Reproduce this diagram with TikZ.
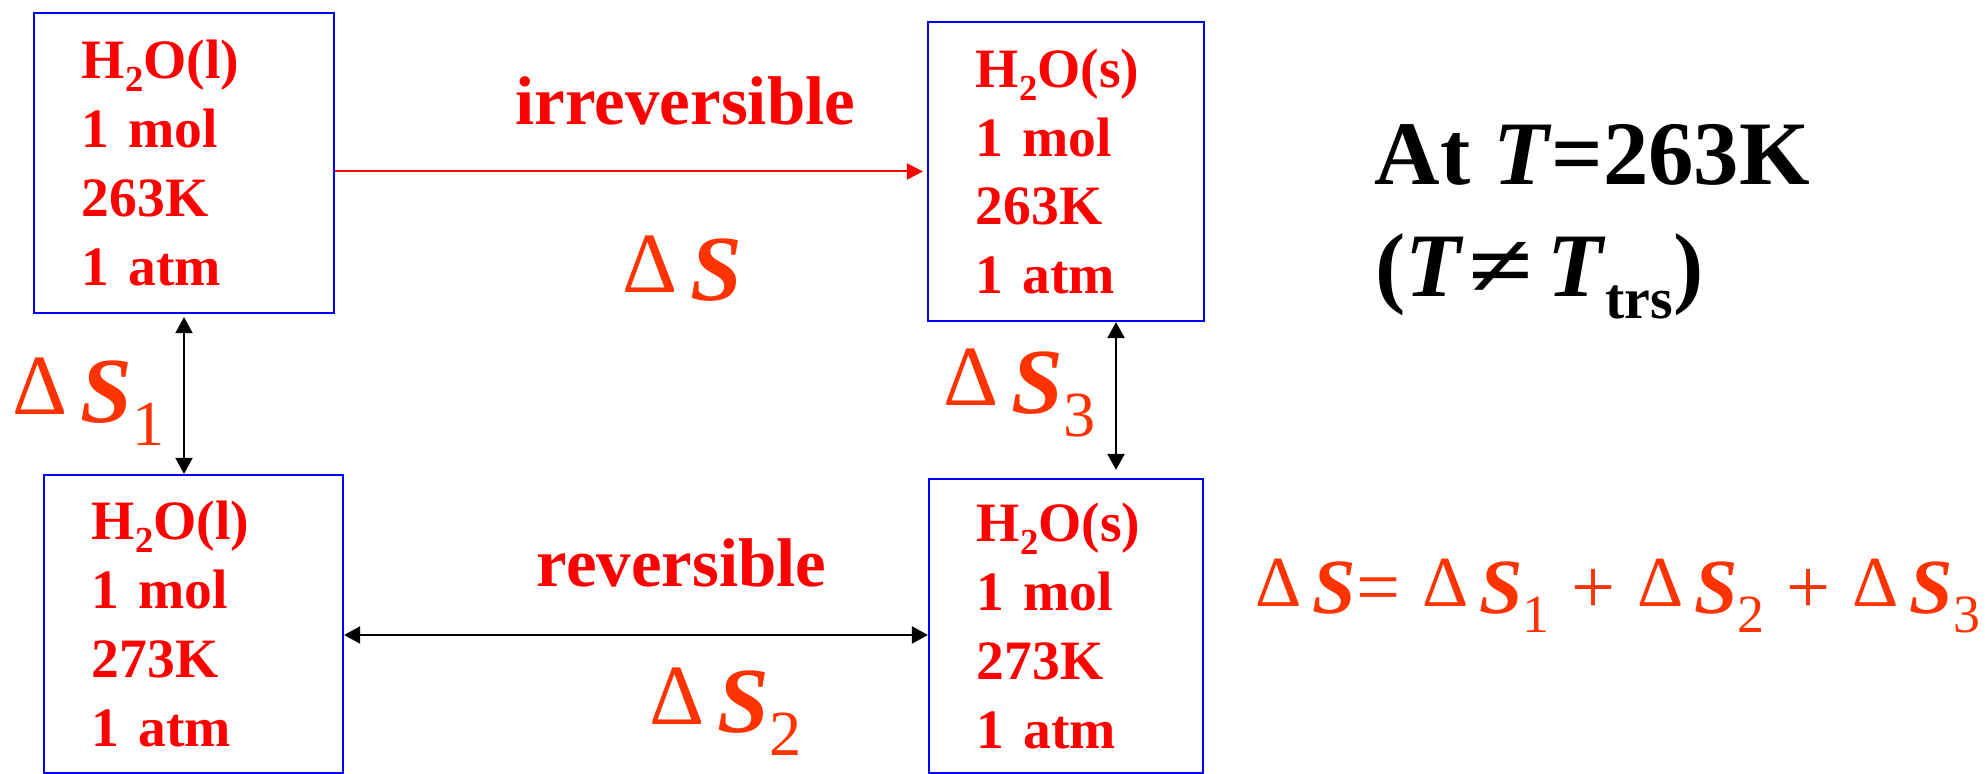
\documentclass[tikz,border=0pt]{standalone}
\usepackage{fontspec}
\setmainfont{LiberationSerif-Regular.ttf}[BoldFont=LiberationSerif-Bold.ttf, ItalicFont=LiberationSerif-Italic.ttf, BoldItalicFont=LiberationSerif-BoldItalic.ttf]
\usepackage{graphicx}
\usetikzlibrary{arrows.meta, positioning}

\definecolor{boxblue}{RGB}{0,0,255}
\definecolor{txtred}{RGB}{255,0,0}
\definecolor{dsorange}{RGB}{255,51,0}

\newcommand{\lowsub}[2][0.66]{\raisebox{-0.24em}{\scalebox{#1}{#2}}}
\newcommand{\dS}[1]{{\mdseries\upshape\raisebox{0.09em}{\scalebox{0.92}{Δ}}}\hspace{0.14em}{\bfseries\itshape S}{\mdseries\upshape\lowsub[0.69]{#1}}}

\begin{document}
\begin{tikzpicture}[
  x=0.01cm, y=-0.01cm,
  every node/.style={inner sep=0pt},
  state/.style ={rectangle, draw=boxblue, line width=0.02cm, inner xsep=0.48cm, inner ysep=0pt,
                 align=left, text=txtred, font=\fontsize{15.8}{19.6}\selectfont\bfseries},
  proc/.style  ={anchor=base west, text=txtred, font=\fontsize{19.6}{22}\selectfont\bfseries},
  dlabel/.style={anchor=base west, text=dsorange, font=\fontsize{26.5}{30}\selectfont},
  note/.style  ={anchor=base west, text=black, font=\fontsize{25.8}{30}\selectfont\bfseries},
  redarr/.style={-{Triangle[length=0.16cm,width=0.16cm]}, draw=txtred, line width=0.02cm},
  blkarr/.style={{Triangle[length=0.16cm,width=0.17cm]}-{Triangle[length=0.16cm,width=0.17cm]}, draw=black, line width=0.02cm}
]
\useasboundingbox (0,0) rectangle (1988,774);

% states: top row 263K, bottom row 273K
\node[state, text width=2.04cm, minimum height=3.00cm] (liq263) at (184,163)    {H\lowsub{2}O(l)\\1 mol\\263K\\1 atm};
\node[state, text width=1.80cm, minimum height=2.99cm] (sol263) at (1066,171.5) {H\lowsub{2}O(s)\\1 mol\\263K\\1 atm};
\node[state, text width=2.03cm, minimum height=2.98cm] (liq273) at (193.5,624)  {H\lowsub{2}O(l)\\1 mol\\273K\\1 atm};
\node[state, text width=1.78cm, minimum height=2.94cm] (sol273) at (1066,626)   {H\lowsub{2}O(s)\\1 mol\\273K\\1 atm};

% process names and entropy changes
\node[proc]   (irrev) at (515,125) {irreversible};
\node[proc]   (rev)   at (536,587) {reversible};
\node[dlabel] (dS)    at (622,301) {\dS{}};
\node[dlabel] (dS1)   at (12,423)  {\dS{1}};
\node[dlabel] (dS2)   at (649,733) {\dS{2}};
\node[dlabel] (dS3)   at (943,414) {\dS{3}};

% right side notes
\node[note] (cond) at (1374,185) {At \textit{T}=263K};
\node[note] (ttrs) at (1375,297) {(\textit{T}\hspace{0.05em}\scalebox{1.3}[1]{≠}\hspace{0.15em}\textit{T}\lowsub[0.64]{trs})};
\node[dlabel, font=\fontsize{22.2}{26}\selectfont] (sum) at (1255,614)
  {\dS{}=\hspace{0.28em}\dS{1}\hspace{0.28em}+\hspace{0.28em}\dS{2}\hspace{0.28em}+\hspace{0.28em}\dS{3}};

% Edges
\draw[redarr, shorten >=0.04cm] (liq263.east |- sol263.west) -- (sol263.west);
\draw[blkarr, shorten <=0.03cm] (liq263.south) -- (liq263.south |- liq273.north);
\draw[blkarr, shorten >=0.08cm] ([xshift=0.5cm]sol263.south) -- ([xshift=0.5cm]sol273.north);
\draw[blkarr] ([yshift=-0.11cm]liq273.east) -- ([yshift=-0.11cm]liq273.east -| sol273.west);
\end{tikzpicture}
\end{document}
